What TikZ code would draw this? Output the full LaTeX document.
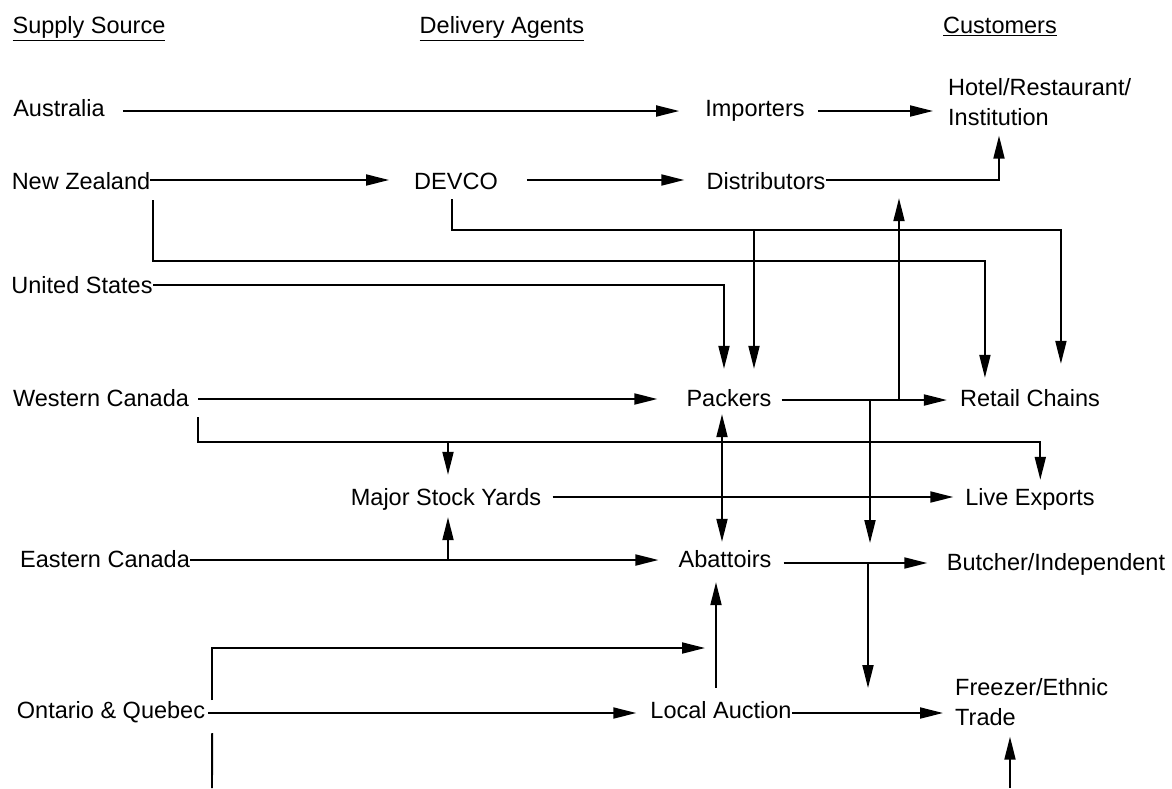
\documentclass[tikz,border=0pt]{standalone}
\usepackage{fontspec}
\setmainfont{Liberation Sans}
\usetikzlibrary{arrows.meta,calc}
\begin{document}
\begin{tikzpicture}[x=1pt,y=-1pt,
  lbl/.style={inner sep=0pt, anchor=center, font=\fontsize{23.5}{30}\selectfont, text height=17pt, text depth=0pt},
  lbltwo/.style={inner sep=0pt, anchor=north west, align=left, font=\fontsize{23.5}{30}\selectfont},
  plain/.style={line width=1.9pt},
  flow/.style={line width=1.9pt, -{Triangle[length=23pt,width=11pt]}},
  dflow/.style={line width=1.9pt, {Triangle[length=23pt,width=11pt]}-{Triangle[length=23pt,width=11pt]}}
]
\useasboundingbox (0,0) rectangle (1172,788);
% headings
\node[lbl, minimum width=150pt] (supply) at (89,25) {\underline{Supply Source}};
\node[lbl, minimum width=159pt] (deliv) at (502,25) {\underline{Delivery Agents}};
\node[lbl, minimum width=113pt] (cust) at (1000,25) {\underline{Customers}};
% supply sources
\node[lbl, minimum width=88pt] (aus) at (59,108) {Australia};
\node[lbl, minimum width=133pt] (nz) at (81,181) {New Zealand};
\node[lbl, minimum width=142pt] (us) at (82,285) {United States};
\node[lbl, minimum width=169pt] (wc) at (101,398) {Western Canada};
\node[lbl, minimum width=166pt] (ec) at (105,559) {Eastern Canada};
\node[lbl, minimum width=190pt] (onq) at (111,710) {Ontario \& Quebec};
% delivery agents
\node[lbl, minimum width=98pt] (imp) at (755,108) {Importers};
\node[lbl, minimum width=67pt] (devco) at (456,181) {DEVCO};
\node[lbl, minimum width=119pt] (dist) at (766,181) {Distributors};
\node[lbl, minimum width=82pt] (pack) at (729,398) {Packers};
\node[lbl, minimum width=193pt] (msy) at (446,497) {Major Stock Yards};
\node[lbl, minimum width=92pt] (abat) at (725,559) {Abattoirs};
\node[lbl, minimum width=141pt] (local) at (721,710) {Local Auction};
% customers
\node[lbltwo] (hotel) at (948,78.5) {Hotel/Restaurant/\\Institution};
\node[lbl, minimum width=137pt] (retail) at (1030,398) {Retail Chains};
\node[lbl, minimum width=137pt] (live) at (1030,497) {Live Exports};
\node[lbl, minimum width=223pt] (butcher) at (1056,562) {Butcher/Independent};
\node[lbltwo] (freezer) at (955,678.5) {Freezer/Ethnic\\Trade};
% junction, start and free-end coordinates
\coordinate (j1) at (754,230);
\coordinate (j2) at (899,400);
\coordinate (j3) at (870,400);
\coordinate (j4) at (448,442);
\coordinate (j5) at (448,560);
\coordinate (j6) at (868,563);
\coordinate (p1) at (870,543);
\coordinate (p2) at (868,688);
\coordinate (p3) at (705,648);
\coordinate (p4) at (212,788);
\coordinate (p5) at (1010,788);
\path ($(aus.east)+(18,3)$) coordinate (s1)
      ($(imp.east)+(13,3)$) coordinate (s2)
      ($(nz.east)+(0,-1)$) coordinate (s3)
      ($(devco.east)+(29,-1)$) coordinate (s4)
      ($(dist.east)+(0,-1)$) coordinate (s5)
      ($(wc.east)+(9,1)$) coordinate (s6)
      ($(pack.east)+(10,2)$) coordinate (s7)
      ($(msy.east)+(10,0)$) coordinate (s8)
      ($(ec.east)+(0,1)$) coordinate (s9)
      ($(abat.east)+(12,4)$) coordinate (s10)
      ($(onq.east)+(2,3)$) coordinate (s11)
      ($(local.east)+(0,3)$) coordinate (s12)
      ($(pack.south)+(-7,7.5)$) coordinate (s13)
      ($(local.north)+(-5,-13.5)$) coordinate (s14);
% connectors
\draw[flow] (s1) -- ($(s1 -| imp.west)+(-26,0)$);
\draw[flow] (s2) -- ($(s2 -| hotel.west)+(-15,0)$);
\draw[flow] (s3) -- ($(s3 -| devco.west)+(-25,0)$);
\draw[flow] (s4) -- ($(s4 -| dist.west)+(-22,0)$);
\draw[flow] (s5) -| ($(hotel.south west)+(51,9.5)$);
\draw[flow] ($(nz.east)+(3,19)$) -- ($(nz.east)+(3,80)$) -| ($(retail.north west)+(25,-11.5)$);
\draw[flow] ($(devco.south)+(-4,9.5)$) -- ($(devco.south)+(-4,40.5)$) -| ($(retail.north west)+(101,-25.5)$);
\draw[flow] (j1) -- ($(pack.north)+(25,-20.5)$);
\draw[flow] (us.east) -| ($(pack.north)+(-5,-20.5)$);
\draw[flow] (s6) -- ($(s6 -| pack.west)+(-29,0)$);
\draw[flow] (s7) -- ($(s7 -| retail.west)+(-13,0)$);
\draw[flow] (j2) -- ($(dist.south -| j2)+(0,8.5)$);
\draw[flow] (j3) -- (p1);
\draw[flow] ($(wc.east)+(9,19)$) -- ($(wc.east)+(9,44)$) -| ($(live.north west)+(79,-8.5)$);
\draw[flow] (j4) -- ($(msy.north)+(2,-13.5)$);
\draw[flow] (s8) -- ($(s8 -| live.west)+(-8,0)$);
\draw[dflow] (s13) -- ($(s13 |- abat.north)+(0,-8.5)$);
\draw[flow] (s9) -- ($(s9 -| abat.west)+(-20,0)$);
\draw[flow] (j5) -- ($(msy.south)+(2,11.5)$);
\draw[flow] (s10) -- ($(s10 -| butcher.west)+(-17,0)$);
\draw[flow] (j6) -- (p2);
\draw[flow] (s11) -- ($(s11 -| local.west)+(-14,0)$);
\draw[flow] ($(onq.east)+(6,-10)$) -- ($(onq.east)+(6,-62)$) -- (p3);
\draw[flow] (s14) -- ($(s14 |- abat.south)+(0,14.5)$);
\draw[flow] (s12) -- ($(s12 -| freezer.west)+(-12,0)$);
\draw[plain] ($(onq.east)+(6,23)$) -- (p4);
\draw[flow] (p5) -- ($(freezer.south west)+(55,10.5)$);
\end{tikzpicture}
\end{document}
